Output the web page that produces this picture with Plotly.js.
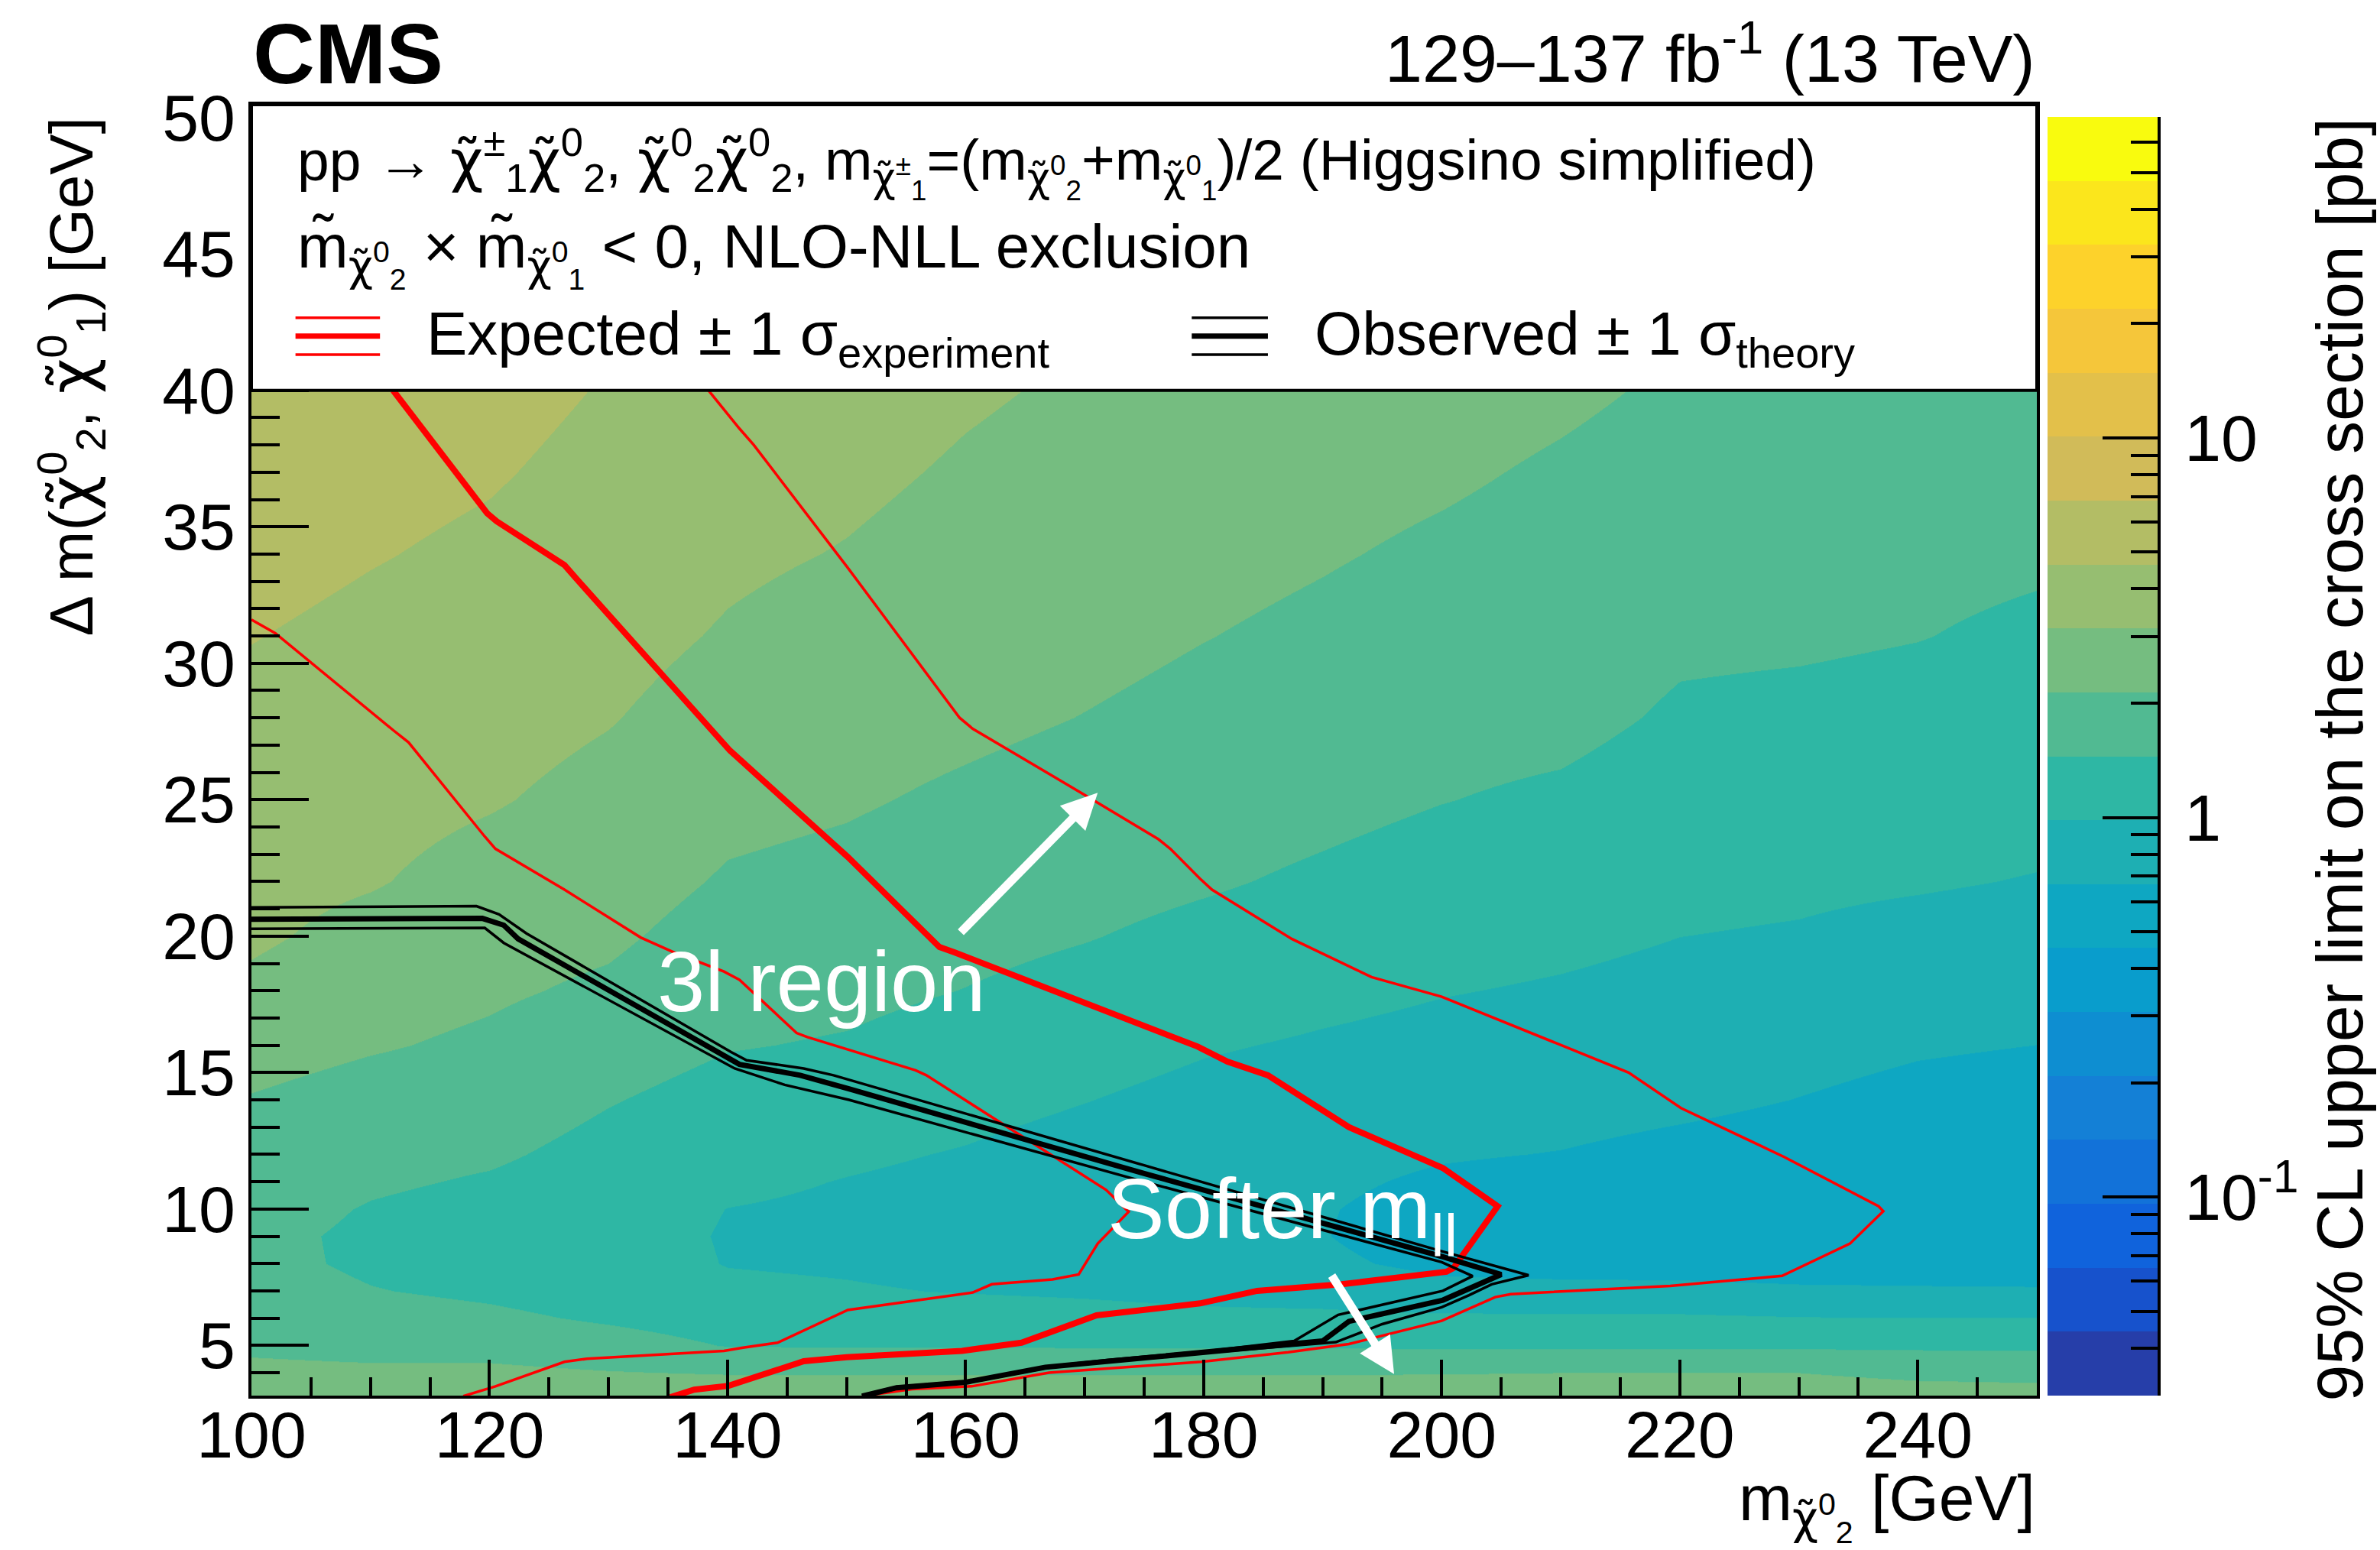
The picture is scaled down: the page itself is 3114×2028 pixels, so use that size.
<!DOCTYPE html>
<html>
<head>
<meta charset="utf-8">
<script src="https://cdn.plot.ly/plotly-3.0.1.min.js"></script>
<style>
html,body{margin:0;padding:0;background:#ffffff;}
#chart{width:3114px;height:2028px;}
</style>
</head>
<body>
<div id="chart"></div>
<script>
// ---------------- DATA ----------------
// grid of m(chi2^0) [GeV] and Delta m [GeV] where the limit is sampled
const massGrid = [100,110,120,130,140,150,160,170,180,190,200,210,220,230,240,250];
const dmGrid   = [3.2,4,5,6,7,8,9,10,11,12,14,16,18,20,22,25,28,31,34,37,40];

// log10( 95% CL upper limit on the cross section / pb ), one array per mass, values along dmGrid
const logLimit_m100 = [0.431,0.363,0.304,0.262,0.229,0.203,0.203,0.229,0.254,0.271,0.321,0.388,0.464,0.523,0.548,0.582,0.624,0.671,0.717,0.759,0.801];
const logLimit_m110 = [0.431,0.355,0.286,0.227,0.168,0.136,0.131,0.149,0.186,0.212,0.271,0.343,0.388,0.447,0.510,0.548,0.591,0.629,0.675,0.712,0.747];
const logLimit_m120 = [0.431,0.363,0.272,0.193,0.133,0.094,0.080,0.102,0.144,0.186,0.254,0.304,0.351,0.388,0.439,0.511,0.553,0.594,0.638,0.680,0.717];
const logLimit_m130 = [0.431,0.338,0.230,0.139,0.085,0.052,0.043,0.052,0.077,0.107,0.170,0.237,0.304,0.355,0.397,0.451,0.506,0.548,0.586,0.621,0.656];
const logLimit_m140 = [0.431,0.321,0.154,0.087,0.020,-0.012,-0.016,-0.009,0.018,0.043,0.102,0.170,0.217,0.266,0.314,0.372,0.431,0.484,0.525,0.569,0.609];
const logLimit_m150 = [0.431,0.319,0.149,0.077,0.005,-0.024,-0.033,-0.028,-0.012,0.013,0.077,0.148,0.198,0.245,0.287,0.346,0.394,0.437,0.490,0.528,0.564];
const logLimit_m160 = [0.431,0.319,0.149,0.067,-0.014,-0.049,-0.058,-0.053,-0.038,-0.016,0.035,0.094,0.158,0.203,0.242,0.304,0.363,0.405,0.444,0.481,0.516];
const logLimit_m170 = [0.431,0.319,0.146,0.050,-0.029,-0.075,-0.092,-0.088,-0.075,-0.058,-0.004,0.052,0.111,0.168,0.212,0.266,0.326,0.372,0.410,0.444,0.478];
const logLimit_m180 = [0.431,0.319,0.144,0.031,-0.055,-0.100,-0.120,-0.125,-0.117,-0.100,-0.049,0.006,0.069,0.122,0.178,0.237,0.287,0.333,0.372,0.409,0.444];
const logLimit_m190 = [0.431,0.319,0.144,0.028,-0.075,-0.150,-0.171,-0.166,-0.147,-0.125,-0.075,-0.024,0.030,0.085,0.136,0.203,0.254,0.299,0.341,0.377,0.410];
const logLimit_m200 = [0.431,0.323,0.138,0.021,-0.134,-0.209,-0.243,-0.235,-0.201,-0.162,-0.100,-0.049,-0.001,0.047,0.094,0.165,0.212,0.259,0.306,0.350,0.388];
const logLimit_m210 = [0.431,0.330,0.138,0.016,-0.139,-0.223,-0.257,-0.257,-0.230,-0.181,-0.117,-0.066,-0.021,0.023,0.069,0.136,0.203,0.237,0.274,0.311,0.355];
const logLimit_m220 = [0.431,0.330,0.138,0.016,-0.142,-0.226,-0.263,-0.265,-0.248,-0.218,-0.142,-0.092,-0.046,-0.007,0.030,0.085,0.141,0.186,0.229,0.271,0.309];
const logLimit_m230 = [0.431,0.330,0.136,-0.002,-0.156,-0.235,-0.268,-0.277,-0.268,-0.246,-0.179,-0.125,-0.078,-0.019,0.018,0.074,0.127,0.181,0.212,0.245,0.276];
const logLimit_m240 = [0.405,0.287,0.136,-0.007,-0.159,-0.243,-0.273,-0.284,-0.282,-0.268,-0.218,-0.159,-0.105,-0.049,0.006,0.060,0.111,0.165,0.195,0.225,0.254];
const logLimit_m250 = [0.388,0.279,0.136,-0.007,-0.162,-0.246,-0.277,-0.289,-0.290,-0.280,-0.240,-0.176,-0.117,-0.066,-0.014,0.043,0.090,0.136,0.181,0.212,0.237];

// colour-axis range of the limit [pb]
const limitMin = 0.03;
const limitMax = 70;
const colorTickVals = [0.1, 1, 10];
const colorTickText = ['10<sup>-1</sup>', '1', '10'];

// Expected limit contour and +-1 sigma(experiment)
const expCentralMass = [111.9,119.8,120.6,126.3,127.3,134.6,140.2,150.1,152.9,157.8,159.1,179.5,182.0,185.4,192.2,200.1,204.7,203.8,201.0,200.4,191.6,184.5,179.7,171.0,164.7,159.7,150.0,146.4,140.1,137.2,135.2];
const expCentralDm   = [40.0,35.5,35.2,33.6,33.1,29.5,26.8,22.9,21.7,19.6,19.4,15.95,15.4,14.9,13.0,11.5,10.1,9.56,7.84,7.7,7.24,7.0,6.54,6.1,5.1,4.8,4.57,4.42,3.52,3.38,3.1];
const expUpMass = [138.4,141.0,142.2,150.1,159.5,160.6,170.1,176.2,177.2,179.7,180.7,187.4,194.1,200.0,215.7,220.1,228.8,236.7,237.1,234.3,228.6,219.2,205.8,204.5,200.0,192.2,187.1,179.8,167.0,160.5,155.5,151.3];
const expUpDm   = [40.0,38.6,38.0,33.5,28.0,27.6,25.15,23.55,23.2,22.1,21.7,19.9,18.5,17.78,15.0,13.7,11.9,10.1,9.92,8.73,7.55,7.18,6.88,6.77,5.9,5.05,4.75,4.4,4.0,3.5,3.4,3.14];
const expDownMass = [100.0,102.0,111.9,113.2,119.6,120.5,126.3,132.7,135.5,139.7,141.0,145.8,146.7,150.1,155.8,156.7,171.8,173.7,171.1,169.5,167.3,162.2,160.6,150.1,144.2,141.3,139.7,128.2,126.3,120.5,117.8];
const expDownDm   = [31.6,31.1,27.55,27.1,23.65,23.2,21.7,19.95,19.4,18.7,18.4,16.45,16.3,15.85,15.08,14.9,10.7,9.9,8.73,7.6,7.42,7.24,6.94,6.3,5.1,4.92,4.8,4.51,4.4,3.5,3.14];

// Observed limit contour and +-1 sigma(theory)
const obsCentralMass = [100.0,119.4,121.2,122.4,141.0,146.1,150.2,175.0,200.1,205.0,200.1,192.2,190.0,180.5,172.0,166.7,160.0,154.2,151.3];
const obsCentralDm   = [20.62,20.65,20.4,19.9,15.3,14.9,14.4,11.3,8.25,7.6,6.66,5.88,5.16,4.78,4.45,4.2,3.65,3.45,3.14];
const obsUpMass = [100.0,118.9,120.8,123.1,140.3,141.6,146.4,148.9,175.0,200.0,207.3,204.2,202.3,200.0,195.0,191.1,180.5,172.0,166.7,160.0,154.2,151.3];
const obsUpDm   = [21.05,21.1,20.8,20.1,15.75,15.45,15.15,14.9,11.6,8.45,7.57,7.24,6.84,6.4,5.78,5.12,4.74,4.42,4.17,3.62,3.42,3.11];
const obsDownMass = [100.0,119.6,121.2,140.6,144.8,150.2,175.0,200.0,202.6,200.1,191.3,187.6,180.5,172.0,166.7,160.0,154.2,151.3];
const obsDownDm   = [20.27,20.3,19.75,15.15,14.55,14.0,11.0,8.05,7.54,7.0,6.12,5.16,4.8,4.47,4.22,3.68,3.48,3.17];

// ---------------- STYLE ----------------
const FONT = 'Liberation Sans, Arial, Helvetica, sans-serif';
const bandColors = [
  'rgb(38,62,169)','rgb(23,82,204)','rgb(16,99,220)','rgb(18,114,217)','rgb(20,128,214)',
  'rgb(14,142,209)','rgb(9,157,204)','rgb(14,167,194)','rgb(30,175,179)','rgb(46,183,164)',
  'rgb(81,186,146)','rgb(117,189,128)','rgb(150,190,113)','rgb(179,189,101)','rgb(209,187,89)',
  'rgb(227,192,74)','rgb(245,198,58)','rgb(253,210,43)','rgb(251,230,28)','rgb(249,251,14)'
];
const nb = bandColors.length;
const colorscale = [];
bandColors.forEach((c, k) => { colorscale.push([k / nb, c]); colorscale.push([(k + 1) / nb, c]); });
const zLo = Math.log10(limitMin), zHi = Math.log10(limitMax), zStep = (zHi - zLo) / nb;

const limitColumns = [logLimit_m100,logLimit_m110,logLimit_m120,logLimit_m130,logLimit_m140,logLimit_m150,
  logLimit_m160,logLimit_m170,logLimit_m180,logLimit_m190,logLimit_m200,logLimit_m210,logLimit_m220,
  logLimit_m230,logLimit_m240,logLimit_m250];
const zGrid = dmGrid.map((_, j) => limitColumns.map(col => col[j]));

// colour bar built from the colour scale itself (band edges and band centres on the log axis)
const cbEdges = Array.from({ length: nb + 1 }, (_, k) => Math.pow(10, zLo + k * zStep));
const cbLevels = Array.from({ length: nb }, (_, k) => [zLo + (k + 0.5) * zStep]);

const cbMinor = [];
[0.01, 0.1, 1, 10].forEach(d => { for (let m = 2; m <= 9; m++) { const v = +(m * d).toPrecision(3); if (v >= limitMin && v <= limitMax) cbMinor.push(v); } });

// plot geometry (pixels)
const L = 329, T = 137, R = 2823, B = 1826;
const W = R - L, H = B - T;
const px = p => (p - L) / W;
const py = p => (B - p) / H;
const mainRight = px(2665);
const cbLeft = px(2679);
const cbTop = py(153);

const traces = [];
traces.push({
  type: 'heatmap', x: massGrid, y: dmGrid, z: zGrid, zsmooth: 'best',
  colorscale: colorscale, zmin: zLo, zmax: zHi, hoverinfo: 'skip', showscale: false
});
traces.push({
  type: 'heatmap', x: [0, 1], y: cbEdges, z: cbLevels, xaxis: 'x2', yaxis: 'y2',
  colorscale: colorscale, zmin: zLo, zmax: zHi, hoverinfo: 'skip', showscale: false
});
function lineTrace(xs, ys, color, width) {
  return { type: 'scatter', mode: 'lines', x: xs, y: ys, line: { color: color, width: width }, hoverinfo: 'skip', showlegend: false };
}
traces.push(lineTrace(expUpMass, expUpDm, '#ff0000', 3.5));
traces.push(lineTrace(expDownMass, expDownDm, '#ff0000', 3.5));
traces.push(lineTrace(expCentralMass, expCentralDm, '#ff0000', 8));
traces.push(lineTrace(obsUpMass, obsUpDm, '#000000', 3.5));
traces.push(lineTrace(obsDownMass, obsDownDm, '#000000', 3.5));
traces.push(lineTrace(obsCentralMass, obsCentralDm, '#000000', 7));

const CHI = '<span style="font-family:DejaVu Sans">\u03C7\u0303</span>';
const ann = [];
function A(o) { ann.push(Object.assign({ showarrow: false, font: { family: FONT, size: 80, color: '#000' } }, o)); }

A({ xref: 'paper', yref: 'paper', x: 0, y: py(70), xanchor: 'left', yanchor: 'middle',
    text: '<b>CMS</b>', font: { family: FONT, size: 112, color: '#000' } });
A({ xref: 'paper', yref: 'paper', x: mainRight, y: py(70), xanchor: 'right', yanchor: 'middle',
    text: '129\u2013137 fb<sup>-1</sup> (13 TeV)', font: { family: FONT, size: 88, color: '#000' } });

A({ xref: 'paper', yref: 'paper', x: px(387), y: py(212.5), xanchor: 'left', yanchor: 'middle',
    text: 'pp \u2192 ' + CHI + '<sup>\u00B1</sup><sub>1</sub>' + CHI + '<sup>0</sup><sub>2</sub>, ' +
          CHI + '<sup>0</sup><sub>2</sub>' + CHI + '<sup>0</sup><sub>2</sub>, m<sub>' + CHI + '<sup>\u00B1</sup><sub>1</sub></sub>=(m<sub>' +
          CHI + '<sup>0</sup><sub>2</sub></sub>+m<sub>' + CHI + '<sup>0</sup><sub>1</sub></sub>)/2 (Higgsino simplified)',
    font: { family: FONT, size: 75, color: '#000' } });
A({ xref: 'paper', yref: 'paper', x: px(387), y: py(332.5), xanchor: 'left', yanchor: 'middle',
    text: 'm\u0303<sub>' + CHI + '<sup>0</sup><sub>2</sub></sub> \u00D7 m\u0303<sub>' + CHI + '<sup>0</sup><sub>1</sub></sub> &lt; 0, NLO-NLL exclusion' });
A({ xref: 'paper', yref: 'paper', x: px(556), y: py(442.5), xanchor: 'left', yanchor: 'middle',
    text: 'Expected \u00B1 1 \u03C3<sub>experiment</sub>' });
A({ xref: 'paper', yref: 'paper', x: px(1718), y: py(442.5), xanchor: 'left', yanchor: 'middle',
    text: 'Observed \u00B1 1 \u03C3<sub>theory</sub>' });

// axis titles
A({ xref: 'paper', yref: 'paper', x: mainRight, y: py(1971), xanchor: 'right', yanchor: 'middle',
    text: 'm<sub>' + CHI + '<sup>0</sup><sub>2</sub></sub> [GeV]', font: { family: FONT, size: 84, color: '#000' } });
A({ xref: 'paper', yref: 'paper', x: px(93), y: py(152), xanchor: 'center', yanchor: 'top', textangle: -90,
    text: '\u0394 m(' + CHI + '<sup>0</sup><sub>2</sub>, ' + CHI + '<sup>0</sup><sub>1</sub>) [GeV]', font: { family: FONT, size: 80, color: '#000' } });
A({ xref: 'paper', yref: 'paper', x: px(3060), y: py(152), xanchor: 'center', yanchor: 'top', textangle: -90,
    text: '95% CL upper limit on the cross section [pb]', font: { family: FONT, size: 86, color: '#000' } });

// in-plot labels
A({ xref: 'x', yref: 'y', x: 134.0, y: 18.34, xanchor: 'left', yanchor: 'middle', text: '3l region',
    font: { family: FONT, size: 112, color: '#ffffff' } });
A({ xref: 'x', yref: 'y', x: 171.8, y: 9.77, xanchor: 'left', yanchor: 'middle', text: 'Softer m<sub>ll</sub>',
    font: { family: FONT, size: 112, color: '#ffffff' } });
// arrows
ann.push({ xref: 'x', yref: 'y', axref: 'x', ayref: 'y', x: 171.1, y: 25.25, ax: 159.5, ay: 20.1, text: '',
    showarrow: true, arrowcolor: '#ffffff', arrowwidth: 11, arrowhead: 2, arrowsize: 0.85, standoff: 0 });
ann.push({ xref: 'x', yref: 'y', axref: 'x', ayref: 'y', x: 196.0, y: 3.95, ax: 190.7, ay: 7.6, text: '',
    showarrow: true, arrowcolor: '#ffffff', arrowwidth: 11, arrowhead: 2, arrowsize: 0.85, standoff: 0 });

// legend box and symbols
const shapes = [
  { type: 'rect', xref: 'x', yref: 'y', x0: 100, x1: 250, y0: 40, y1: 50.47, fillcolor: '#ffffff',
    line: { color: '#000', width: 4 }, layer: 'above' }
];
function symbol(x0, x1, color) {
  shapes.push({ type: 'line', xref: 'x', yref: 'y', x0: x0, x1: x1, y0: 42.66, y1: 42.66, line: { color: color, width: 3.5 }, layer: 'above' });
  shapes.push({ type: 'line', xref: 'x', yref: 'y', x0: x0, x1: x1, y0: 41.99, y1: 41.99, line: { color: color, width: 7 }, layer: 'above' });
  shapes.push({ type: 'line', xref: 'x', yref: 'y', x0: x0, x1: x1, y0: 41.31, y1: 41.31, line: { color: color, width: 3.5 }, layer: 'above' });
}
symbol(103.7, 110.8, '#ff0000');
symbol(179.0, 185.4, '#000000');

const axisCommon = {
  showline: true, linecolor: '#000', linewidth: 4, mirror: true, showgrid: false, zeroline: false,
  ticks: 'inside', tickwidth: 4, tickcolor: '#000', tickfont: { family: FONT, size: 86, color: '#000' },
  fixedrange: true
};

const layout = {
  width: 3114, height: 2028,
  margin: { l: L, r: 3114 - R, t: T, b: 2028 - B, autoexpand: false },
  paper_bgcolor: '#ffffff', plot_bgcolor: '#ffffff',
  showlegend: false, hovermode: false,
  font: { family: FONT, color: '#000' },
  xaxis: Object.assign({}, axisCommon, {
    domain: [0, mainRight], anchor: 'y', range: [100, 250], tickmode: 'linear', tick0: 0, dtick: 20, ticklen: 47,
    ticklabelstandoff: -26,
    minor: { dtick: 5, ticks: 'inside', ticklen: 24, tickwidth: 4, tickcolor: '#000' }
  }),
  yaxis: Object.assign({}, axisCommon, {
    domain: [0, 1], anchor: 'x', range: [3.16, 50.47], tickmode: 'linear', tick0: 0, dtick: 5, ticklen: 75,
    minor: { dtick: 1, ticks: 'inside', ticklen: 37, tickwidth: 4, tickcolor: '#000' }
  }),
  xaxis2: { domain: [cbLeft, 1], anchor: 'y2', visible: false, range: [0, 1], fixedrange: true },
  yaxis2: {
    domain: [0, cbTop], anchor: 'x2', side: 'right', type: 'log',
    range: [zLo, zHi],
    tickmode: 'array', tickvals: colorTickVals, ticktext: colorTickText,
    ticks: 'inside', ticklen: 72, tickwidth: 4, tickcolor: '#000',
    minor: { tickmode: 'array', tickvals: cbMinor, ticks: 'inside', ticklen: 35, tickwidth: 4, tickcolor: '#000' },
    showline: true, linecolor: '#000', linewidth: 4, showgrid: false, zeroline: false,
    tickfont: { family: FONT, size: 86, color: '#000' }, ticklabelstandoff: 14, fixedrange: true
  },
  annotations: ann,
  shapes: shapes
};

Plotly.newPlot('chart', traces, layout, { displayModeBar: false, staticPlot: true });
</script>
</body>
</html>
